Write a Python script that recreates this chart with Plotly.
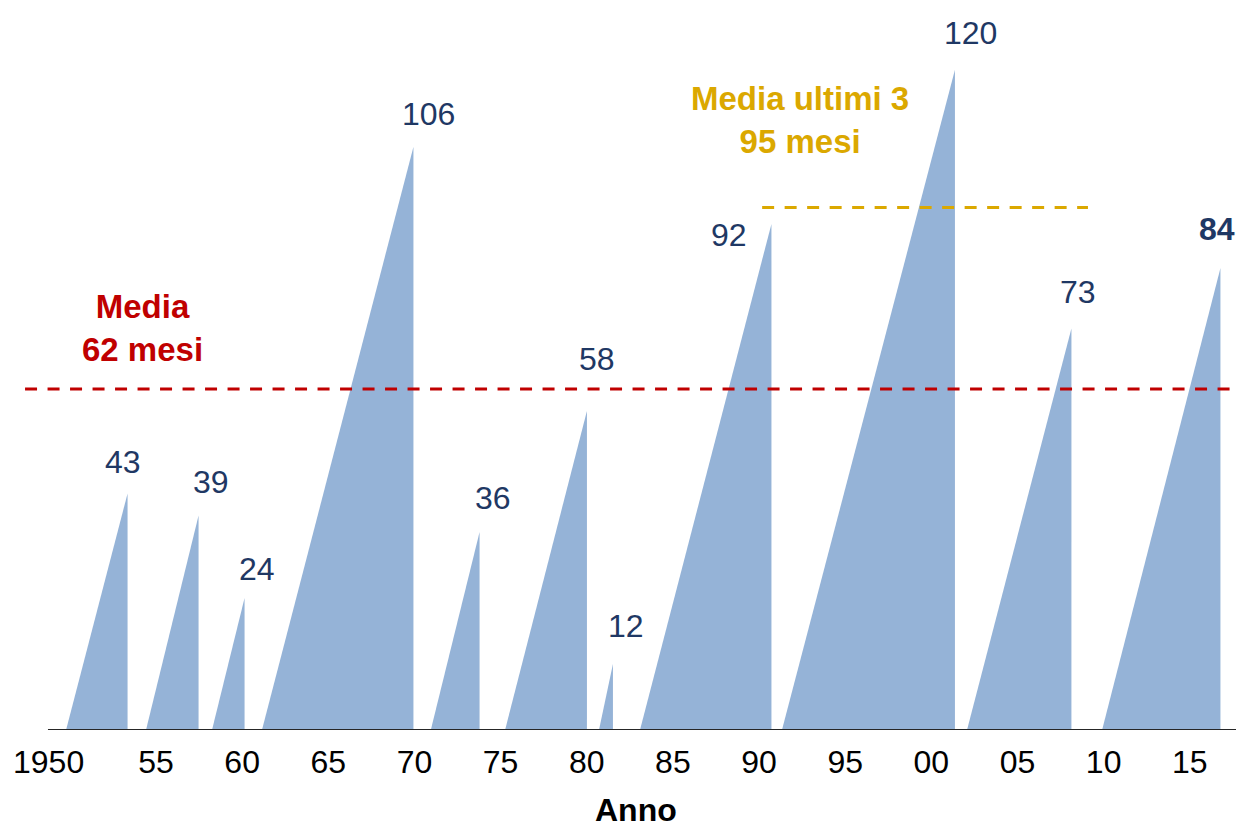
import plotly.graph_objects as go

# Espansioni economiche: inizio e fine (anni frazionari) e durata in mesi
inizio = [1949.78, 1954.42, 1958.25, 1961.15, 1970.95, 1975.26, 1980.71, 1983.09, 1991.33, 2002.07, 2009.91]
fine = [1953.35, 1957.47, 1960.14, 1969.94, 1973.78, 1980.01, 1981.52, 1990.72, 2001.37, 2008.13, 2016.78]
mesi = [43, 39, 24, 106, 36, 58, 12, 92, 120, 73, 84]

media_tutte = 62
media_ultime3 = 95

tick_anni = [1955, 1960, 1965, 1970, 1975, 1980, 1985, 1990, 1995, 2000, 2005, 2010, 2015]
tick_testi = ["55", "60", "65", "70", "75", "80", "85", "90", "95", "00", "05", "10", "15"]

FONT = "Liberation Sans, Arial, sans-serif"
BLU = "#95B3D7"
NAVY = "#1F3864"
ROSSO = "#C00000"
ORO = "#DBA800"

W, H = 1236, 827
X0, X1 = 1945.946, 2017.682
Y1 = 132.7

fig = go.Figure()

for s, e, v in zip(inizio, fine, mesi):
    fig.add_trace(go.Scatter(
        x=[s, e, e, s], y=[0, v, 0, 0],
        mode="lines", fill="toself", fillcolor=BLU,
        line=dict(width=0, color=BLU),
        hoverinfo="skip", showlegend=False,
    ))

# posizione delle etichette rispetto al vertice (px: destra, su)
spost = [(-5, 31), (12, 33), (12, 29), (15, 33), (13, 34), (10, 52),
         (13, 38), (-42, -11), (16, 37), (7, 36), (-3, 39)]
for i, (e, v) in enumerate(zip(fine, mesi)):
    dx, dy = spost[i]
    ultimo = i == len(mesi) - 1
    fig.add_annotation(
        x=e, y=v, xref="x", yref="y", text=f"<b>{v}</b>" if ultimo else str(v),
        showarrow=False, xanchor="center", yanchor="middle",
        xshift=dx, yshift=dy,
        font=dict(family=FONT, size=32, color=NAVY),
    )

# asse orizzontale
fig.add_shape(type="line", xref="x", yref="y", x0=1948.73, x1=X1, y0=0, y1=0,
              line=dict(color="#262626", width=2))

# linee delle medie
fig.add_shape(type="line", xref="x", yref="y", x0=1947.40, x1=X1,
              y0=media_tutte, y1=media_tutte,
              line=dict(color=ROSSO, width=3, dash="12px,10.5px"))
fig.add_shape(type="line", xref="x", yref="y", x0=1990.18, x1=2009.09,
              y0=media_ultime3, y1=media_ultime3,
              line=dict(color=ORO, width=3, dash="12px,10.5px"))

fig.add_annotation(
    x=142 / W, y=(730 - 328) / 730, xref="paper", yref="paper",
    text=f"<b>Media<br>{media_tutte} mesi</b>", showarrow=False,
    xanchor="center", yanchor="middle", align="center",
    font=dict(family=FONT, size=33, color=ROSSO),
)
fig.add_annotation(
    x=800 / W, y=(730 - 120) / 730, xref="paper", yref="paper",
    text=f"<b>Media ultimi 3<br>{media_ultime3} mesi</b>", showarrow=False,
    xanchor="center", yanchor="middle", align="center",
    font=dict(family=FONT, size=33, color=ORO),
)

# etichetta del primo anno e titolo dell'asse
fig.add_annotation(
    x=1950, y=0, xref="x", yref="y", text="1950", showarrow=False,
    xanchor="center", yanchor="middle", xshift=-21, yshift=-32,
    font=dict(family=FONT, size=32, color="black"),
)
fig.add_annotation(
    x=636 / W, y=(730 - 810) / 730, xref="paper", yref="paper",
    text="<b>Anno</b>", showarrow=False, xanchor="center", yanchor="middle",
    borderpad=0,
    font=dict(family=FONT, size=32, color="black"),
)

fig.update_layout(
    width=W, height=H, autosize=False,
    margin=dict(l=0, r=0, t=0, b=97, pad=0),
    plot_bgcolor="white", paper_bgcolor="white",
    xaxis=dict(range=[X0, X1], tickvals=tick_anni, ticktext=tick_testi,
               showgrid=False, zeroline=False, showline=False, ticks="",
               ticklabelstandoff=10,
               tickfont=dict(family=FONT, size=32, color="black")),
    yaxis=dict(range=[0, Y1], visible=False, showgrid=False, zeroline=False),
)

fig.write_html("out.html")
